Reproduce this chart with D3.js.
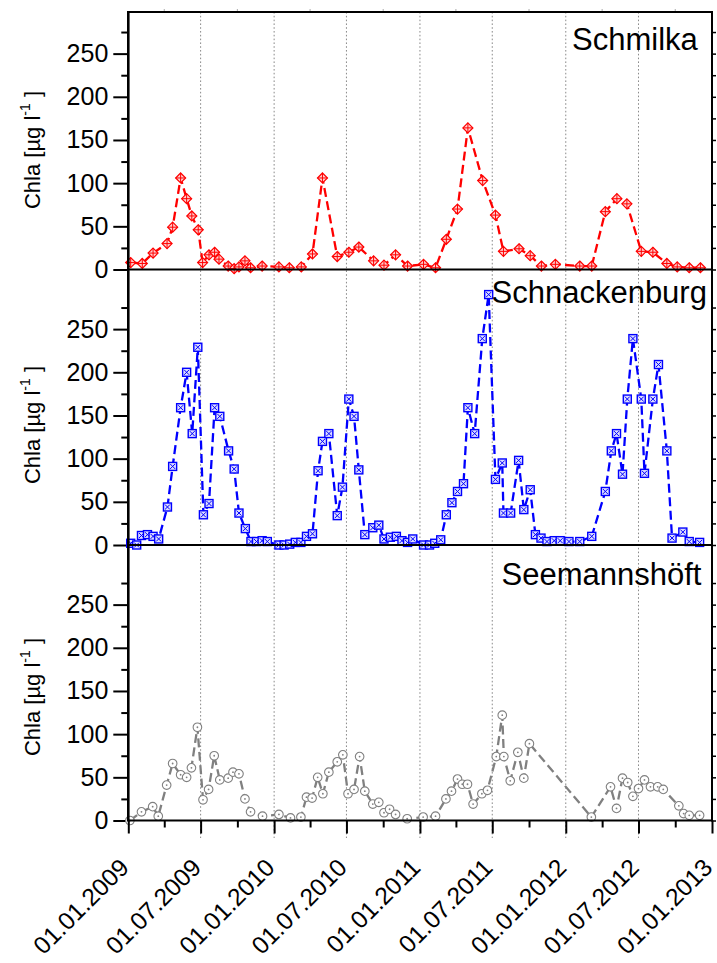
<!DOCTYPE html>
<html><head><meta charset="utf-8">
<script src="https://cdn.jsdelivr.net/npm/d3@7"></script>
<style>body{margin:0;background:#fff}svg{display:block}</style>
</head><body>
<script>
// ---------- DATA ----------
const panelNames = ["Schmilka", "Schnackenburg", "Seemannshöft"];
const yAxisTitle = "Chla [µg l";
const yMajorTicks = [0, 50, 100, 150, 200, 250];
const yMinorTicks = [25, 75, 125, 175, 225, 275];
const xTickDates = ["2009-01-01","2009-07-01","2010-01-01","2010-07-01","2011-01-01","2011-07-01","2012-01-01","2012-07-01","2013-01-01"];
const xTickLabels = ["01.01.2009","01.07.2009","01.01.2010","01.07.2010","01.01.2011","01.07.2011","01.01.2012","01.07.2012","01.01.2013"];
const xMinorDates = ["2009-04-01","2009-10-01","2010-04-01","2010-10-01","2011-04-01","2011-10-01","2012-04-01","2012-10-01"];

const schmilkaDates = ["2009-01-07","2009-02-05","2009-03-04","2009-04-08","2009-04-22","2009-05-12","2009-05-27","2009-06-09","2009-06-25","2009-07-06","2009-07-22","2009-08-05","2009-08-16","2009-09-08","2009-09-23","2009-10-05","2009-10-20","2009-11-03","2009-12-02",
"2010-01-13","2010-02-08","2010-03-10","2010-04-07","2010-05-02","2010-06-08","2010-07-07","2010-08-01","2010-09-07","2010-10-03","2010-11-01","2010-12-01",
"2011-01-10","2011-02-09","2011-03-08","2011-04-05","2011-05-01","2011-06-07","2011-07-09","2011-07-29","2011-09-06","2011-10-04","2011-11-01","2011-12-06",
"2012-02-05","2012-03-06","2012-04-09","2012-05-08","2012-06-02","2012-07-08","2012-08-06","2012-09-10","2012-10-06","2012-11-05","2012-12-03"];
const schmilkaValues = [8,7,19,30,49,106,82,62,46,8,17,20,12,4,1,3,10,2,4,
3,2,3,18,106,15,20,26,10,5,17,4,
6,2,35,70,164,103,63,21,24,16,4,6,
4,4,67,82,76,21,20,7,3,2,2];

const schnackenburgDates = ["2009-01-07","2009-01-22","2009-02-03","2009-02-18","2009-03-04","2009-03-18","2009-04-09","2009-04-22","2009-05-12","2009-05-27","2009-06-10","2009-06-24","2009-07-08","2009-07-22","2009-08-05","2009-08-18","2009-09-09","2009-09-23","2009-10-05","2009-10-21","2009-11-04","2009-11-18","2009-12-02","2009-12-15",
"2010-01-13","2010-01-26","2010-02-09","2010-02-23","2010-03-09","2010-03-23","2010-04-07","2010-04-21","2010-05-02","2010-05-18","2010-06-08","2010-06-21","2010-07-07","2010-07-20","2010-08-01","2010-08-16","2010-09-05","2010-09-20","2010-10-03","2010-10-19","2010-11-03","2010-11-17","2010-12-01","2010-12-14",
"2011-01-10","2011-01-25","2011-02-07","2011-02-22","2011-03-08","2011-03-22","2011-04-05","2011-04-20","2011-05-01","2011-05-18","2011-06-06","2011-06-22","2011-07-09","2011-07-26","2011-07-29","2011-08-16","2011-09-05","2011-09-18","2011-10-04","2011-10-17","2011-10-31","2011-11-15","2011-12-03","2011-12-18",
"2012-01-09","2012-02-05","2012-03-06","2012-04-09","2012-04-24","2012-05-07","2012-05-22","2012-06-03","2012-06-17","2012-07-08","2012-07-16","2012-08-06","2012-08-20","2012-09-10","2012-09-23","2012-10-20","2012-11-05","2012-12-01"];
const schnackenburgValues = [2,0,11,12,10,7,44,91,159,200,129,229,35,48,159,149,109,88,37,19,4,4,5,4,
0,0,1,3,3,10,13,86,120,129,34,67,169,149,87,12,20,23,7,9,10,5,3,7,
0,0,2,6,35,49,62,71,159,129,239,290,76,95,37,37,98,41,64,12,8,4,5,5,
4,4,10,62,109,129,82,169,239,169,83,169,209,109,8,15,4,3];

const seemannshoeftDates = ["2009-01-05","2009-02-03","2009-03-03","2009-03-17","2009-04-07","2009-04-22","2009-05-12","2009-05-27","2009-06-08","2009-06-23","2009-07-07","2009-07-21","2009-08-04","2009-08-18","2009-09-08","2009-09-20","2009-10-05","2009-10-20","2009-11-03","2009-12-03",
"2010-01-13","2010-02-11","2010-03-09","2010-03-23","2010-04-06","2010-04-20","2010-05-03","2010-05-18","2010-06-08","2010-06-22","2010-07-05","2010-07-20","2010-08-03","2010-08-16","2010-09-05","2010-09-20","2010-10-03","2010-10-17","2010-11-01","2010-11-30",
"2011-01-09","2011-02-09","2011-03-07","2011-03-21","2011-04-05","2011-04-17","2011-04-30","2011-05-14","2011-06-05","2011-06-19","2011-07-11","2011-07-26","2011-07-30","2011-08-15","2011-09-03","2011-09-18","2011-10-02",
"2012-03-05","2012-04-22","2012-05-07","2012-05-22","2012-06-04","2012-06-17","2012-07-01","2012-07-16","2012-07-31","2012-08-18","2012-09-01","2012-10-10","2012-10-22","2012-11-05","2012-12-01"];
const seemannshoeftValues = [0,10,16,5,41,66,53,50,61,108,24,36,75,47,49,56,54,25,10,5,
7,3,4,27,26,50,31,56,68,76,31,36,74,34,19,21,9,13,7,2,
4,5,25,34,48,42,42,19,31,35,74,122,74,46,79,49,89,
4,39,14,49,44,28,37,47,39,39,36,17,8,6,6];

const seriesColors = ["#ff0000", "#0000ff", "#808080"];
const markerFills = ["#ffd0d0", "#dcdcff", "#ffffff"];
const markerKinds = ["diamond", "square", "circle"];

// ---------- LAYOUT ----------
const W = 717, H = 963;
const plotLeft = 128.3, plotRight = 712;
const plotTop = 12;
const zeroLines = [269.5, 545, 820.5];
const panelTops = [12, 269.5, 545];
const pxPerUnit = 0.8635;
const parse = d3.timeParse("%Y-%m-%d");

const svg = d3.select("body").append("svg").attr("width", W).attr("height", H)
  .style("font-family", "'Liberation Sans', Arial, Helvetica, sans-serif");

const x = d3.scaleTime().domain([parse("2009-01-01"), parse("2013-01-01")]).range([plotLeft, plotRight]);

// vertical dotted grid lines (half-years, interior)
svg.append("g").selectAll("line")
  .data(xTickDates.slice(1, -1).map(parse))
  .join("line")
  .attr("x1", d => x(d)).attr("x2", d => x(d))
  .attr("y1", plotTop).attr("y2", 838)
  .attr("stroke", "#8a8a8a").attr("stroke-width", 1).attr("stroke-dasharray", "1.6,2.2");

// top axis faint ticks (quarters)
svg.append("g").selectAll("line")
  .data(xMinorDates.map(parse))
  .join("line")
  .attr("x1", d => x(d)).attr("x2", d => x(d))
  .attr("y1", plotTop - 3).attr("y2", plotTop)
  .attr("stroke", "#aaa").attr("stroke-width", 1);

const datasets = [
  {dates: schmilkaDates, values: schmilkaValues},
  {dates: schnackenburgDates, values: schnackenburgValues},
  {dates: seemannshoeftDates, values: seemannshoeftValues}
];
const labelPos = [[572, 49.5], [491.5, 303], [501.5, 585]];
const yTitleCenters = [150, 425, 697];

datasets.forEach((ds, i) => {
  const y0 = zeroLines[i], yt = panelTops[i];
  const y = d3.scaleLinear().domain([0, (y0 - yt) / pxPerUnit]).range([y0, yt]);
  const g = svg.append("g");

  // left axis: major ticks with labels
  const majAxis = d3.axisLeft(y).tickValues(yMajorTicks).tickSize(15).tickPadding(5).tickFormat(d3.format("d"));
  const ga = g.append("g").attr("transform", `translate(${plotLeft},0)`).call(majAxis);
  ga.select(".domain").remove();
  ga.selectAll("line").attr("stroke", "#000").attr("stroke-width", 2);
  ga.selectAll("text").attr("font-size", 25).attr("fill", "#000").attr("font-family", "'Liberation Sans', Arial, sans-serif");
  const minAxis = d3.axisLeft(y).tickValues(yMinorTicks).tickSize(7).tickFormat("");
  const gm = g.append("g").attr("transform", `translate(${plotLeft},0)`).call(minAxis);
  gm.select(".domain").remove();
  gm.selectAll("line").attr("stroke", "#000").attr("stroke-width", 2);

  // right axis small outward ticks
  const rAxis = d3.axisRight(y).tickValues(yMajorTicks.concat(yMinorTicks)).tickSize(4).tickFormat("");
  const gr = g.append("g").attr("transform", `translate(${plotRight},0)`).call(rAxis);
  gr.select(".domain").remove();
  gr.selectAll("line").attr("stroke", "#000").attr("stroke-width", 1.5);

  // y title
  const t = g.append("text")
    .attr("transform", `translate(40,${yTitleCenters[i]}) rotate(-90)`)
    .attr("text-anchor", "middle").attr("font-size", 22).attr("fill", "#000");
  t.append("tspan").text(yAxisTitle);
  t.append("tspan").attr("dy", -10).attr("font-size", 14).text("-1");
  t.append("tspan").attr("dy", 10).attr("font-size", 22).text(" ]");

  // data line
  const pts = ds.dates.map((d, k) => ({date: parse(d), v: ds.values[k]}));
  const line = d3.line().x(d => x(d.date)).y(d => y(d.v));
  g.append("path").datum(pts).attr("d", line)
    .attr("fill", "none").attr("stroke", seriesColors[i]).attr("stroke-width", 2.3)
    .attr("stroke-dasharray", "9,4.5");

  // markers
  const mk = g.append("g").selectAll("g").data(pts).join("g")
    .attr("transform", d => `translate(${x(d.date)},${y(d.v)})`);
  const c = seriesColors[i], f = markerFills[i];
  if (markerKinds[i] === "diamond") {
    const r = 5;
    mk.append("path").attr("d", `M0,${-r}L${r},0L0,${r}L${-r},0Z`).attr("fill", f).attr("stroke", c).attr("stroke-width", 1.2);
    mk.append("path").attr("d", `M0,${-r}V${r}M${-r},0H${r}`).attr("stroke", c).attr("stroke-width", 1);
  } else if (markerKinds[i] === "square") {
    const h = 4;
    mk.append("rect").attr("x", -h).attr("y", -h).attr("width", 2*h).attr("height", 2*h).attr("fill", f).attr("stroke", c).attr("stroke-width", 1.4);
    mk.append("path").attr("d", `M${-h+1.5},${-h+1.5}L${h-1.5},${h-1.5}M${-h+1.5},${h-1.5}L${h-1.5},${-h+1.5}`).attr("stroke", c).attr("stroke-width", 1);
  } else {
    mk.append("circle").attr("r", 4.3).attr("fill", f).attr("stroke", c).attr("stroke-width", 1.1);
    mk.append("circle").attr("r", 0.9).attr("fill", c);
  }

  // panel zero line (x axis of the panel)
  g.append("line").attr("x1", plotLeft).attr("x2", plotRight).attr("y1", y0).attr("y2", y0)
    .attr("stroke", "#000").attr("stroke-width", 2.2);

  // panel name
  g.append("text").attr("x", labelPos[i][0]).attr("y", labelPos[i][1])
    .attr("font-size", 31).attr("fill", "#000").text(panelNames[i]);
});

// frame: left, right, top
svg.append("line").attr("x1", plotLeft).attr("x2", plotLeft).attr("y1", plotTop - 1).attr("y2", zeroLines[2] + 1)
  .attr("stroke", "#000").attr("stroke-width", 2.6);
svg.append("line").attr("x1", plotRight).attr("x2", plotRight).attr("y1", plotTop - 1).attr("y2", zeroLines[2] + 1)
  .attr("stroke", "#000").attr("stroke-width", 2);
svg.append("line").attr("x1", plotLeft).attr("x2", plotRight).attr("y1", plotTop).attr("y2", plotTop)
  .attr("stroke", "#000").attr("stroke-width", 2);

// bottom axis
const xb = svg.append("g").attr("transform", `translate(0,${zeroLines[2]})`)
  .call(d3.axisBottom(x).tickValues(xTickDates.map(parse)).tickSize(13).tickFormat(""));
xb.select(".domain").remove();
xb.selectAll("line").attr("stroke", "#000").attr("stroke-width", 2);
const xbm = svg.append("g").attr("transform", `translate(0,${zeroLines[2]})`)
  .call(d3.axisBottom(x).tickValues(xMinorDates.map(parse)).tickSize(7).tickFormat(""));
xbm.select(".domain").remove();
xbm.selectAll("line").attr("stroke", "#000").attr("stroke-width", 2);

svg.append("g").selectAll("text").data(xTickDates)
  .join("text")
  .attr("transform", d => `translate(${x(parse(d)) + 2},869) rotate(-45)`)
  .attr("text-anchor", "end").attr("font-size", 24.5).attr("fill", "#000")
  .text((d, k) => xTickLabels[k]);
</script>
</body></html>
